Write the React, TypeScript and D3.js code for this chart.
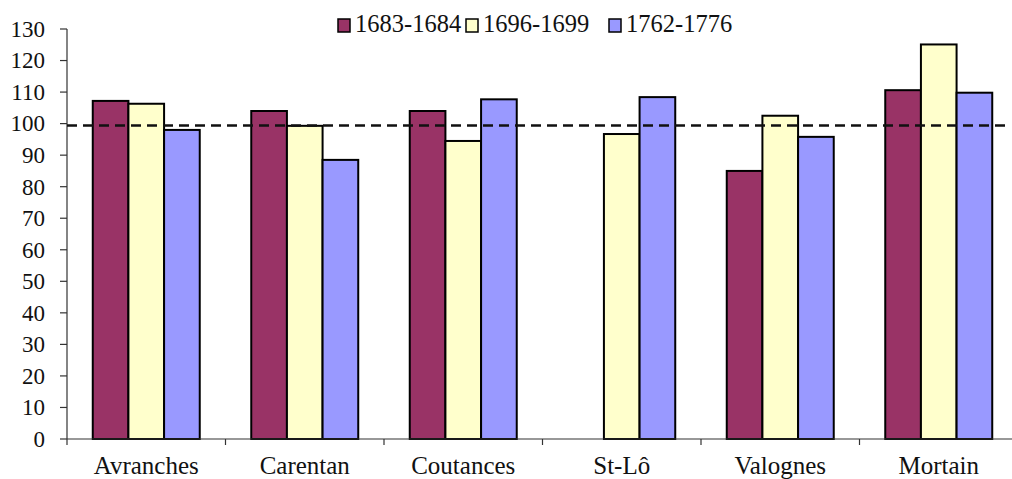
import React from "react";
import * as d3 from "d3";

const categories = ["Avranches", "Carentan", "Coutances", "St-Lô", "Valognes", "Mortain"];
const seriesNames = ["1683-1684", "1696-1699", "1762-1776"];
const s1683: (number | null)[] = [107.2, 104, 104, null, 85, 110.6];
const s1696: (number | null)[] = [106.3, 99.3, 94.5, 96.7, 102.5, 125.1];
const s1762: (number | null)[] = [98, 88.5, 107.7, 108.4, 95.8, 109.8];
const yTicks = [0, 10, 20, 30, 40, 50, 60, 70, 80, 90, 100, 110, 120, 130];
const referenceLine = 99.4;
const colors = ["#993366", "#FFFFCC", "#9999FF"];

const FONT = '"Liberation Serif", Tinos, "Times New Roman", serif';

export default function App() {
  const W = 1012, H = 479;
  const left = 67, right = 1018, top = 29, bottom = 439;
  const series = [s1683, s1696, s1762];
  const x = d3.scaleBand<string>().domain(categories).range([left, right]).paddingInner(0).paddingOuter(0);
  const y = d3.scaleLinear().domain([0, 130]).range([bottom, top]);
  const groupW = x.bandwidth() * 0.675;
  const inner = d3.scaleBand<number>().domain([0, 1, 2]).range([0, groupW]);
  const legendX = [338, 466, 609];
  const ts = { fontFamily: FONT };
  return (
    <svg width={W} height={H} fontFamily={FONT} style={{ position: "absolute", left: 0, top: 0, background: "#fff", fontFamily: FONT }}>
      <style>{`svg text { font-family: ${FONT} !important; }`}</style>
      {categories.map((c, i) => {
        const gx = (x(c) as number) + (x.bandwidth() - groupW) / 2;
        return series.map((s, k) => {
          const v = s[i];
          if (v == null) return null;
          return (
            <rect key={c + k} x={gx + (inner(k) as number)} y={y(v)} width={inner.bandwidth()} height={y(0) - y(v)}
              fill={colors[k]} stroke="#000" strokeWidth={2} />
          );
        });
      })}
      <line x1={left} x2={left} y1={top} y2={bottom} stroke="#333" strokeWidth={1.2} />
      {yTicks.map((t) => (
        <g key={t}>
          <line x1={left - 7} x2={left} y1={y(t)} y2={y(t)} stroke="#333" strokeWidth={1.2} />
          <text x={45} y={y(t)} dy="0.34em" textAnchor="end" fontSize={23} fill="#111" fontFamily={FONT} style={ts}>{t}</text>
        </g>
      ))}
      <line x1={left} x2={right} y1={bottom} y2={bottom} stroke="#333" strokeWidth={1.2} />
      {categories.map((c) => (
        <line key={c} x1={x(c) as number} x2={x(c) as number} y1={bottom} y2={bottom + 6} stroke="#333" strokeWidth={1.2} />
      ))}
      {categories.map((c) => (
        <text key={c} x={(x(c) as number) + x.bandwidth() / 2} y={474} textAnchor="middle" fontSize={25} fill="#111" fontFamily={FONT} style={ts}>{c}</text>
      ))}
      <line x1={left} x2={1008} y1={y(referenceLine)} y2={y(referenceLine)} stroke="#111" strokeWidth={2.5} strokeDasharray="10 6" />
      {seriesNames.map((n, k) => (
        <g key={n}>
          <rect x={legendX[k]} y={19} width={12} height={13} fill={colors[k]} stroke="#000" strokeWidth={1.5} />
          <text x={legendX[k] + 17} y={32} fontSize={24.5} fill="#111" fontFamily={FONT} style={ts}>{n}</text>
        </g>
      ))}
    </svg>
  );
}
